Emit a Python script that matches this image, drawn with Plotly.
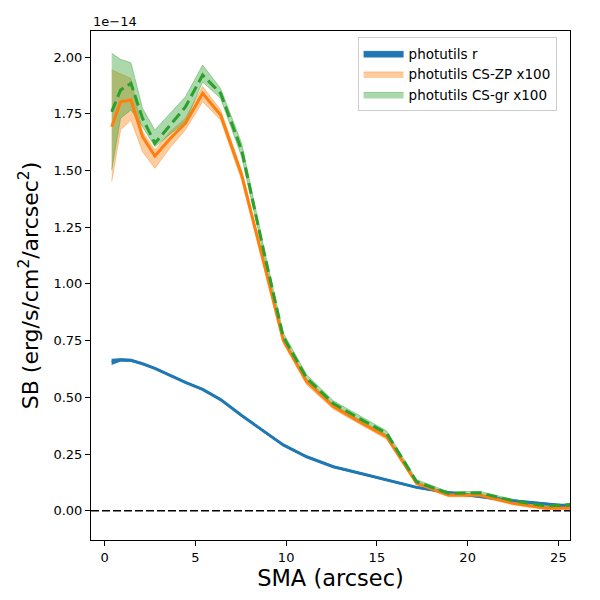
import plotly.graph_objects as go

# SMA grid (arcsec) and surface brightness profiles in units of 1e-14 erg/s/cm^2/arcsec^2
sma = [0.39, 0.88, 1.45, 2.09, 2.77, 3.6, 4.45, 5.40, 6.39, 7.55, 8.75, 9.84,
       11.13, 12.6, 14.07, 15.54, 17.19, 18.93, 20.68, 22.5, 24.35, 26.3]

sb_r = [0.655, 0.665, 0.663, 0.648, 0.628, 0.597, 0.566, 0.535, 0.49, 0.42, 0.35, 0.29,
        0.238, 0.194, 0.165, 0.135, 0.103, 0.08, 0.062, 0.044, 0.03, 0.015]
sb_r_lo = [0.645, 0.66, 0.659, 0.645, 0.625, 0.594, 0.563, 0.532, 0.487, 0.417, 0.347, 0.287,
           0.235, 0.191, 0.162, 0.132, 0.1, 0.077, 0.059, 0.041, 0.027, 0.012]
sb_r_hi = [0.668, 0.67, 0.667, 0.651, 0.631, 0.6, 0.569, 0.538, 0.493, 0.423, 0.353, 0.293,
           0.241, 0.197, 0.168, 0.138, 0.106, 0.083, 0.065, 0.047, 0.033, 0.018]

sb_zp = [1.693, 1.803, 1.811, 1.649, 1.564, 1.64, 1.708, 1.840, 1.745, 1.48, 1.10, 0.752,
         0.569, 0.459, 0.39, 0.326, 0.121, 0.069, 0.068, 0.033, 0.011, 0.012]
sb_zp_lo = [1.45, 1.679, 1.723, 1.583, 1.51, 1.60, 1.679, 1.803, 1.723, 1.46, 1.08, 0.74,
            0.555, 0.448, 0.38, 0.315, 0.113, 0.062, 0.061, 0.026, 0.004, 0.006]
sb_zp_hi = [1.943, 1.925, 1.906, 1.671, 1.59, 1.67, 1.73, 1.87, 1.767, 1.50, 1.12, 0.765,
            0.58, 0.47, 0.40, 0.335, 0.128, 0.075, 0.074, 0.04, 0.018, 0.018]

sb_gr = [1.759, 1.855, 1.884, 1.73, 1.62, 1.70, 1.78, 1.921, 1.840, 1.59, 1.15, 0.767,
         0.585, 0.473, 0.405, 0.341, 0.128, 0.077, 0.079, 0.044, 0.021, 0.03]
sb_gr_lo = [1.502, 1.73, 1.767, 1.693, 1.605, 1.66, 1.715, 1.89, 1.818, 1.56, 1.13, 0.75,
            0.57, 0.46, 0.39, 0.33, 0.118, 0.07, 0.072, 0.038, 0.016, 0.025]
sb_gr_hi = [2.017, 1.99, 1.975, 1.774, 1.679, 1.75, 1.825, 1.965, 1.862, 1.62, 1.17, 0.785,
            0.60, 0.485, 0.418, 0.352, 0.137, 0.084, 0.085, 0.05, 0.026, 0.035]

series = [
    ("photutils r", sb_r, sb_r_lo, sb_r_hi, "31,119,180", "solid"),
    ("photutils CS-ZP x100", sb_zp, sb_zp_lo, sb_zp_hi, "255,127,14", "solid"),
    ("photutils CS-gr x100", sb_gr, sb_gr_lo, sb_gr_hi, "44,160,44", "11px,5px"),
]

fig = go.Figure()

# bands first
for name, mid, lo, hi, rgb, dash in series:
    alpha = 1.0 if name == "photutils r" else 0.4
    fig.add_trace(go.Scatter(x=sma + sma[::-1], y=hi + lo[::-1], fill="toself",
                             fillcolor=f"rgba({rgb},{alpha})",
                             line=dict(color=f"rgba({rgb},{alpha})", width=1),
                             mode="lines", name=name, hoverinfo="skip"))

# then the profile lines
for name, mid, lo, hi, rgb, dash in series:
    fig.add_trace(go.Scatter(x=sma, y=mid, mode="lines", showlegend=False,
                             line=dict(color=f"rgb({rgb})", width=3, dash=dash)))

fig.add_hline(y=0, line=dict(color="black", dash="8px,3px", width=1.5))

axis = dict(showline=True, linecolor="black", linewidth=1, mirror=True,
            ticks="outside", ticklen=5, tickcolor="black", showgrid=False,
            zeroline=False, tickfont=dict(size=13, color="black"))

# page body adds an 8px offset, margins compensate for it
fig.update_layout(
    width=600, height=600,
    plot_bgcolor="white", paper_bgcolor="white",
    font=dict(family="DejaVu Sans", color="black"),
    margin=dict(l=83, r=38, t=23, b=68),
    xaxis=dict(range=[-0.75, 25.64], tickvals=[0, 5, 10, 15, 20, 25],
               title=dict(text="SMA (arcsec)", font=dict(size=22.5), standoff=5), **axis),
    yaxis=dict(range=[-0.129, 2.115], tickvals=[0, 0.25, 0.5, 0.75, 1.0, 1.25, 1.5, 1.75, 2.0],
               tickformat=".2f",
               title=dict(text="SB (erg/s/cm<sup>2</sup>/arcsec<sup>2</sup>)", font=dict(size=22), standoff=8),
               **axis),
    legend=dict(x=0.972, y=0.988, xanchor="right", yanchor="top",
                bgcolor="rgba(255,255,255,0.8)", bordercolor="#cccccc", borderwidth=1,
                font=dict(size=13.5), itemwidth=40, tracegroupgap=0),
    annotations=[dict(text="1e\u221214", x=0, y=1, xref="paper", yref="paper",
                      xanchor="left", yanchor="bottom", showarrow=False,
                      font=dict(size=13))],
)

fig.write_html("out.html")
